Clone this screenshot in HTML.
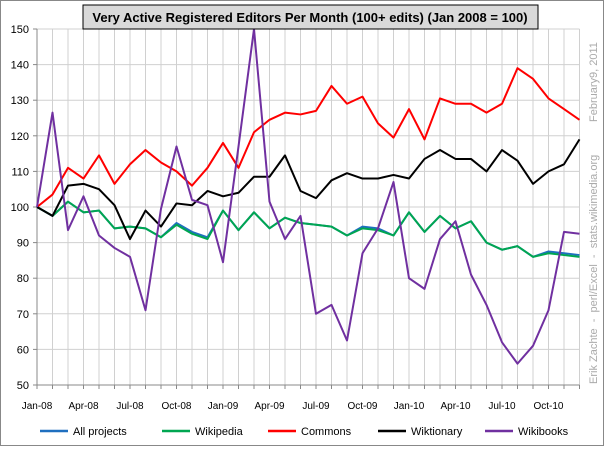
<!DOCTYPE html>
<html><head><meta charset="utf-8"><style>
body{margin:0;background:#fff;font-family:"Liberation Sans",sans-serif}
svg text{font-family:"Liberation Sans",sans-serif}
</style></head><body>
<svg id="c" width="604" height="446">
<rect x="0.5" y="0.5" width="603" height="445" fill="#fff" stroke="#888"/>
<g id="grid"></g><g id="axes"></g><g id="series"></g>
<rect x="83" y="5" width="455" height="24" fill="#d9d9d9" stroke="#000"/>
<text x="310" y="22" text-anchor="middle" font-size="13" font-weight="bold">Very Active Registered Editors  Per Month  (100+ edits)  (Jan 2008  = 100)</text>
<text transform="translate(597,384) rotate(-90)" font-size="11" fill="#aaa" xml:space="preserve">Erik Zachte  -  perl/Excel  -  stats.wikimedia.org</text>
<text transform="translate(597,122) rotate(-90)" font-size="11" fill="#aaa">February9, 2011</text>
<g id="legend"></g>
</svg>
<script>
const months=['Jan-08','Apr-08','Jul-08','Oct-08','Jan-09','Apr-09','Jul-09','Oct-09','Jan-10','Apr-10','Jul-10','Oct-10'];
const yTicks=[50,60,70,80,90,100,110,120,130,140,150];
const allProjects=[100,97.5,101.5,98.5,99,94,94.5,94,91.5,95.5,93,91.5,99,93.5,98.5,94,97,95.5,95,94.5,92,94.5,94,92,98.5,93,97.5,94,96,90,88,89,86,87.5,87,86.5];
const wikipedia=[100,97.5,101.5,98.5,99,94,94.5,94,91.5,95,92.5,91,99,93.5,98.5,94,97,95.5,95,94.5,92,94,93.5,92,98.5,93,97.5,94,96,90,88,89,86,87,86.5,86];
const commons=[100,103.5,111,108,114.5,106.5,112,116,112.5,110,106,111,118,111,121,124.5,126.5,126,127,134,129,131,123.5,119.5,127.5,119,130.5,129,129,126.5,129,139,136,130.5,127.5,124.5];
const wiktionary=[100,97.5,106,106.5,105,100.5,91,99,94.5,101,100.5,104.5,103,104,108.5,108.5,114.5,104.5,102.5,107.5,109.5,108,108,109,108,113.5,116,113.5,113.5,110,116,113,106.5,110,112,119];
const wikibooks=[100,126.5,93.5,103,92,88.5,86,71,99.5,117,102,100.5,84.5,117,150,101.5,91,97.5,70,72.5,62.5,87,94,107,80,77,91,96,81,72.5,62,56,61,71,93,92.5];
const NS='http://www.w3.org/2000/svg';
const X0=37,DX=15.5,Y0=385,YT=29;
const xs=i=>X0+i*DX;
const ys=v=>Y0-(v-50)/100*(Y0-YT);
function mk(p,tag,a){const e=document.createElementNS(NS,tag);for(const k in a)e.setAttribute(k,a[k]);p.appendChild(e);return e;}
const grid=document.getElementById('grid'),axes=document.getElementById('axes'),ser=document.getElementById('series'),leg=document.getElementById('legend');
for(let i=1;i<36;i++){const l=mk(grid,'line',{x1:xs(i),x2:xs(i),y1:YT,y2:Y0,stroke:'#d0d0d0'});

}
yTicks.forEach(v=>{const l=mk(grid,'line',{x1:X0,x2:xs(35),y1:ys(v),y2:ys(v),stroke:'#d0d0d0'});


const t=mk(axes,'text',{x:X0-8,y:ys(v)+4,'text-anchor':'end','font-size':11});t.textContent=v;


mk(axes,'line',{x1:X0-4,x2:X0,y1:ys(v),y2:ys(v),stroke:'#888'});});
mk(axes,'line',{x1:X0,x2:X0,y1:YT,y2:Y0,stroke:'#888'});
mk(axes,'line',{x1:X0,x2:xs(35),y1:Y0,y2:Y0,stroke:'#888'});
for(let i=0;i<36;i++)mk(axes,'line',{x1:xs(i),x2:xs(i),y1:Y0,y2:Y0+4,stroke:'#888'});
months.forEach((m,k)=>{const t=mk(axes,'text',{x:xs(k*3),y:409,'text-anchor':'middle','font-size':10});t.textContent=m;

});
const series=[['All projects',allProjects,'#1f6fbf',40,'all-projects'],['Wikipedia',wikipedia,'#00a651',162,'wikipedia'],['Commons',commons,'#ff0000',268,'commons'],['Wiktionary',wiktionary,'#000',378,'wiktionary'],['Wikibooks',wikibooks,'#7030a0',485,'wikibooks']];
series.forEach(s=>{const p=mk(ser,'polyline',{points:s[1].map((v,i)=>xs(i)+','+ys(v)).join(' '),fill:'none',stroke:s[2],'stroke-width':2,'stroke-linejoin':'round'});


const g=mk(leg,'g',{});


mk(g,'line',{x1:s[3],x2:s[3]+28,y1:431,y2:431,stroke:s[2],'stroke-width':2.5});
const t=mk(g,'text',{x:s[3]+33,y:435,'font-size':11});t.textContent=s[0];});
</script>
</body></html>
